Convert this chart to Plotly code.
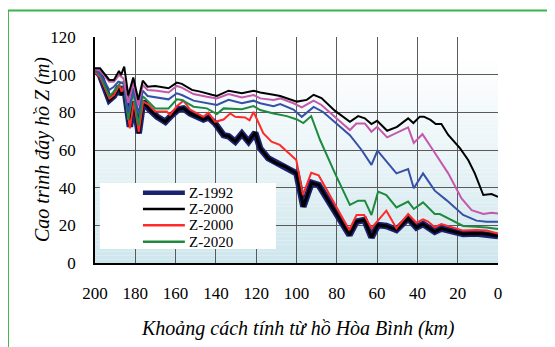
import plotly.graph_objects as go

# ---------------- data ----------------
x_top = [200,197.5,192.9,190.6,188.1,187.1,185.5,183.5,181,178.5,176.3,173.9,170.1,163.5,159.4,156.9,151.9,147.8,142,139.5,
         133.7,127.1,121.3,118,111.4,108.1,99.8,94.9,91.5,87.6,81,73.5,69.4,66.1,62.8,60,55,50.1,44.6,42,38.8,36.8,33.5,
         30.9,28.1,24.7,18.9,14.8,11.5,7.3,3.2,0]
z_top = [103.4,103.4,97.2,97.2,102,99.8,104.3,89,98.5,86.5,96.8,93.6,94,92.8,95.8,95.1,91.9,91,89.3,88.7,
         91.5,90.1,91.5,90.5,89.3,88.7,85.7,86.6,89.3,87.6,80.9,75,78,76.8,73.8,75.5,70.2,72.3,76.8,74.3,77.7,77.7,76,
         73.8,73.8,68,61,54.7,47.6,36.1,36.6,35.2]

x_mag = [200,197.5,192.9,190.6,188.1,185.9,183.5,181,178.5,176.3,173.9,169.2,163.5,159.4,156.9,151.1,144.5,139.5,133.7,
         127.1,121.3,118,111.4,108.1,101.5,97.4,91.5,87.6,80.2,73.5,70.3,66.1,62.8,60,55,44.6,41.8,37.5,32.2,24.7,18.1,
         13.1,7.3,3.2,0]
z_mag = [102.9,102.1,96.3,96.3,99.8,98,85,96,83.5,94.5,91.9,91.5,90.5,94,93.1,89.7,88.3,87.4,89.7,
         87.9,89.2,87.4,86.6,87.4,84.8,82.6,86.2,83.9,76.8,70.6,74.1,74.1,69.7,72.3,66.7,72,63.8,68.4,59.9,47.6,34.3,
         28.1,26,26.7,26.3]

x_blue = [200,197.5,192.9,190.6,188.4,185.9,183.5,181,178.5,176.3,173.9,169.2,163.5,159.4,156.9,151.1,144.5,139.5,133.7,
          127.1,121.3,118,111.4,108.1,101.5,97.4,91.5,86.8,80.2,73.5,67.7,62.8,59.8,50.4,44.6,41.8,37.2,31.4,25.6,17.3,
          10.7,5.7,0]
z_blue = [102.5,100.7,91.9,93.6,96.3,95.4,80,93,79,91.5,88.7,88,86.9,90.1,89.2,86.2,84.8,83.9,86.6,
          84.8,86.2,84.8,83.3,84.4,81.5,77.6,82.9,80.2,74.1,67.9,60,52.1,59.7,47.6,49.9,39.7,47.6,38.4,33.4,25.5,
          22.5,21.9,21.9]

x_green = [200,197.5,192.9,190.6,187.6,185.9,183.5,181,178.5,176.3,175.1,170.1,163.5,159.4,156.9,151.1,144.5,139.5,136.2,
           127.1,121.3,118,111.4,104.8,99.8,96.6,92.7,88.3,80.9,73.5,69.4,66.1,62.8,59.5,55.4,50.4,44.6,41.8,37.2,31.4,
           28.9,17.3,10.7,5.7,0]
z_green = [102.1,99.8,88.7,91,95.4,96,76,91,73,88.5,87.4,82.1,82.1,86.9,86.6,83,82.1,79.1,82.1,
           81.6,83.3,81.2,79.4,78,76.2,74.3,78,65.3,47.6,30.8,33.1,33.1,25.5,37.9,36.1,29.5,32.6,28.7,32.2,26,
           26,19.7,19.3,18.9,18]

x_red = [200,197.5,192.9,190.6,187.9,186.8,185.5,182.7,180.7,178.3,176.1,173.1,170.1,164.4,162.8,159.4,156.1,152.8,146.2,
         143.7,140.4,136.2,132.9,130.4,125.5,123.3,121.3,116.5,112.4,108.3,100.1,96.8,92.7,89,73.8,70.2,66.4,62.8,55.4,
         50.4,44.6,40.5,37.2,34.7,31.4,28.1,17.3,10.7,5.7,0]
z_red = [101.3,98.8,87.4,89.2,94.5,91,94.5,71.5,85.7,69.7,85.7,83.9,80.4,80.4,78.6,83.3,86.2,81.5,77.6,
         79.8,75,76.2,79.4,77.6,77.3,75.8,80.2,68.9,64.4,62.7,54.7,36.1,47.9,46.5,17.5,25.5,25.5,18.5,27.8,
         18.5,26,21.4,23.2,22,19,20.7,17.2,17.5,17.2,15.7]

x_base = [200,197.5,192.9,190.6,187.9,186.8,185.5,182.7,180.7,178.3,176.1,173.1,169.2,165.1,161.8,158.5,156.1,152.8,146.2,
          143.7,140.4,136.2,133.7,130.4,127.1,123.8,120.5,118,114,109.8,105.7,100,96.6,92.5,89,73.7,70.2,66.3,62.8,59.5,
          55.4,50.4,44.6,40.5,37.2,31.4,28.1,17.3,10.7,5.7,0]
z_base = [102.5,99.8,86.6,88.7,93.6,89.2,93.6,72.3,85.7,68.9,85.7,81.6,77.7,75,78.6,81.6,82.1,79.4,76.2,
          77.3,74.1,67.9,67.3,64.4,68.7,64.4,69.2,60.8,55.6,52.9,51.2,47.6,29.9,42.6,41.4,14.9,22,22.8,13.6,20.2,
          19.7,17.5,23.7,18.9,20.7,16.6,18.3,15.4,15.7,15.4,14.3]

legend_names = ["Z-1992", "Z-2000", "Z-2000", "Z-2020"]
legend_colors = ["#1c2170", "#000000", "#ff2a2a", "#1f8a3e"]
x_ticks = [200, 180, 160, 140, 120, 100, 80, 60, 40, 20, 0]
y_ticks = [0, 20, 40, 60, 80, 100, 120]

SERIF = "Liberation Serif"

fig = go.Figure()

fig.add_trace(go.Scatter(x=x_base, y=z_base, mode="lines", name=legend_names[0],
                         line=dict(color="#1c2170", width=6.5)))
fig.add_trace(go.Scatter(x=x_base, y=z_base, mode="lines", name=legend_names[0],
                         line=dict(color="#000000", width=3)))
fig.add_trace(go.Scatter(x=x_red, y=z_red, mode="lines", name=legend_names[2],
                         line=dict(color="#ff2a2a", width=2)))
fig.add_trace(go.Scatter(x=x_green, y=z_green, mode="lines", name=legend_names[3],
                         line=dict(color="#1f8a3e", width=2)))
fig.add_trace(go.Scatter(x=x_blue, y=z_blue, mode="lines", name="blue",
                         line=dict(color="#3550a8", width=2)))
fig.add_trace(go.Scatter(x=x_mag, y=z_mag, mode="lines", name="magenta",
                         line=dict(color="#c459ab", width=2)))
fig.add_trace(go.Scatter(x=x_top, y=z_top, mode="lines", name=legend_names[1],
                         line=dict(color="#000000", width=2)))

# gradient background (bands below grid)
shapes = []
n = 60
top = (255, 255, 255)
bot = (204, 229, 236)
for i in range(n):
    y0 = 120 * i / n
    y1 = 120 * (i + 1) / n
    t = ((y0 + y1) / 2) / 120
    t = min(1.0, t ** 0.85 * 1.08)
    c = tuple(round(bot[k] + (top[k] - bot[k]) * t) for k in range(3))
    shapes.append(dict(type="rect", xref="x", yref="y", x0=200, x1=0, y0=y0, y1=y1,
                       fillcolor="rgb(%d,%d,%d)" % c, line=dict(width=0), layer="below"))
# white legend box
shapes.append(dict(type="rect", xref="paper", yref="paper", x0=0.012, x1=0.449, y0=0.062, y1=0.354,
                   fillcolor="white", line=dict(width=0), layer="above"))
# legend samples + labels
annotations = []
leg_y = [0.311, 0.239, 0.167, 0.094]
leg_w = [4.5, 2.5, 2.5, 2.5]
for name, col, yy, w in zip(legend_names, legend_colors, leg_y, leg_w):
    shapes.append(dict(type="line", xref="paper", yref="paper", x0=0.119, x1=0.223, y0=yy, y1=yy,
                       line=dict(color=col, width=w), layer="above"))
    annotations.append(dict(text=name, xref="paper", yref="paper", x=0.229, y=yy, showarrow=False,
                            xanchor="left", yanchor="middle",
                            font=dict(family=SERIF, size=15, color="black")))
# green frame around figure
shapes.append(dict(type="rect", xref="paper", yref="paper", x0=-0.216, x1=1.124, y0=-0.45, y1=1.117,
                   fillcolor="rgba(0,0,0,0)", line=dict(color="#3cb44b", width=2), layer="above"))

annotations += [
    dict(text="<i>Cao trình đáy hồ Z (m)</i>", xref="paper", yref="paper", x=-0.1315, y=0.5,
         textangle=-90, showarrow=False, xanchor="center", yanchor="middle",
         font=dict(family=SERIF, size=20, color="black")),
    dict(text="<i>Khoảng cách tính từ hồ Hòa Bình (km)</i>", xref="paper", yref="paper", x=0.504, y=-0.288,
         showarrow=False, xanchor="center", yanchor="middle",
         font=dict(family=SERIF, size=20, color="black")),
]

# page body has an 8px margin: shift left/top margins to compensate
fig.update_layout(
    width=555, height=347,
    margin=dict(l=87, r=65, t=29, b=92),
    paper_bgcolor="white", plot_bgcolor="white",
    shapes=shapes,
    annotations=annotations,
    showlegend=False,
    font=dict(family=SERIF, color="black"),
)

fig.update_xaxes(range=[200, 0], tickvals=x_ticks, ticktext=[str(v) for v in x_ticks],
                 showgrid=True, gridcolor="#5a5a5a", gridwidth=1,
                 showline=True, linecolor="black", linewidth=1.5, ticks="",
                 ticklabelstandoff=14, zeroline=False,
                 tickfont=dict(family=SERIF, size=17, color="black"))
fig.update_yaxes(range=[0, 120], tickvals=y_ticks, ticktext=[str(v) for v in y_ticks],
                 showgrid=True, gridcolor="#5a5a5a", gridwidth=1,
                 showline=True, linecolor="black", linewidth=1.5, ticks="",
                 ticklabelstandoff=14, zeroline=False,
                 tickfont=dict(family=SERIF, size=17, color="black"))

fig.write_html("out.html")
